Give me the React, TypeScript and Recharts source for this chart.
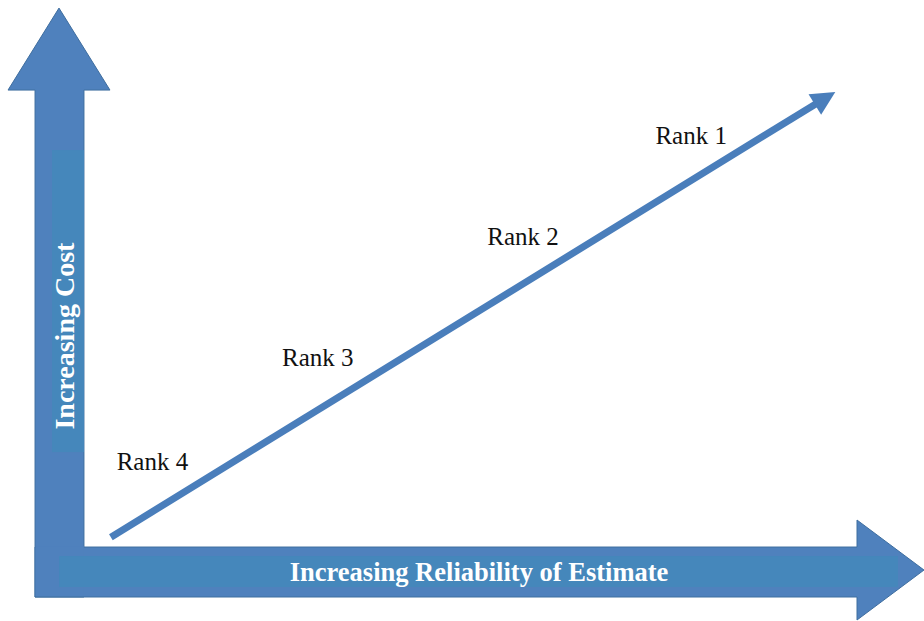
import React from "react";
import {
  ScatterChart,
  Scatter,
  XAxis,
  YAxis,
  ReferenceArea,
  ReferenceLine,
} from "recharts";

// Conceptual chart: both axes run 0..100 (unitless)
const rankLabels = ["Rank 4", "Rank 3", "Rank 2", "Rank 1"];
const rankX = [16.5, 34.4, 56.6, 74.8];
const rankY = [24.3, 41.1, 60.5, 76.8];
const diagonalX = [12.0, 90.4];
const diagonalY = [13.5, 85.2];
const xAxisTitle = "Increasing Reliability of Estimate";
const yAxisTitle = "Increasing Cost";

const rankPoints = rankLabels.map((label, i) => ({ x: rankX[i], y: rankY[i], label }));
const diagonal = diagonalX.map((x, i) => ({ x, y: diagonalY[i] }));

const W = 924;
const H = 621;
const ARROW_FILL = "#4f81bd";
const ARROW_STROKE = "#3f6e9f";
const BAND_FILL = "#4587bb";
const SERIF = "'Liberation Serif', 'DejaVu Serif', serif";

const UpArrow = (p: any) => {
  const { x, y, width, height } = p;
  const sl = x + width * 0.265;
  const sr = x + width * 0.745;
  const head = 82;
  const cx = x + width / 2;
  const pts = [
    [cx, y],
    [x + width, y + head],
    [sr, y + head],
    [sr, y + height],
    [sl, y + height],
    [sl, y + head],
    [x, y + head],
  ]
    .map((q) => q.join(","))
    .join(" ");
  const bandTop = y + 142;
  const bandBottom = y + 444;
  const tx = sr - 10;
  const ty = y + 328;
  return (
    <g>
      <polygon points={pts} fill={ARROW_FILL} stroke={ARROW_STROKE} strokeWidth={1} />
      <rect x={sl + 17} y={bandTop} width={sr - sl - 17} height={bandBottom - bandTop} fill={BAND_FILL} />
      <text
        x={tx}
        y={ty}
        transform={`rotate(-90 ${tx} ${ty})`}
        textAnchor="middle"
        fill="#ffffff"
        fontFamily={SERIF}
        fontWeight="bold"
        fontSize={28}
      >
        {yAxisTitle}
      </text>
    </g>
  );
};

const RightArrow = (p: any) => {
  const { x, y, width, height } = p;
  const st = y + height * 0.27;
  const sb = y + height * 0.77;
  const head = 67;
  const cy = y + height / 2;
  const hx = x + width - head;
  const pts = [
    [x, st],
    [hx, st],
    [hx, y],
    [x + width, cy],
    [hx, y + height],
    [hx, sb],
    [x, sb],
  ]
    .map((q) => q.join(","))
    .join(" ");
  return (
    <g>
      <polygon points={pts} fill={ARROW_FILL} stroke={ARROW_STROKE} strokeWidth={1} />
      <rect x={x + 0.6} y={st - 1} width={48.2} height={sb - st} fill={ARROW_FILL} />
      <rect x={x + 24} y={st + 9} width={width - 50} height={sb - st - 19} fill={BAND_FILL} />
      <text
        x={x + 444}
        y={sb - 16}
        textAnchor="middle"
        fill="#ffffff"
        fontFamily={SERIF}
        fontWeight="bold"
        fontSize={26.5}
      >
        {xAxisTitle}
      </text>
    </g>
  );
};

const DiagArrow = (p: any) => {
  const { x1, y1, x2, y2 } = p;
  const dx = x2 - x1;
  const dy = y2 - y1;
  const len = Math.sqrt(dx * dx + dy * dy);
  const ux = dx / len;
  const uy = dy / len;
  const hl = 24;
  const hw = 12;
  const bx = x2 - ux * hl;
  const by = y2 - uy * hl;
  const pts = [
    [x2, y2],
    [bx - uy * hw, by + ux * hw],
    [bx + uy * hw, by - ux * hw],
  ]
    .map((q) => q.join(","))
    .join(" ");
  return (
    <g>
      <line x1={x1} y1={y1} x2={bx + ux * 2} y2={by + uy * 2} stroke="#4a7ebb" strokeWidth={7} />
      <polygon points={pts} fill="#4a7ebb" />
    </g>
  );
};

const RankLabel = (p: any) => (
  <text
    x={p.cx}
    y={p.cy}
    textAnchor="middle"
    fill="#111111"
    fontFamily={SERIF}
    fontSize={25}
  >
    {p.payload.label}
  </text>
);

export default function App() {
  return (
    <div style={{ position: "absolute", left: 0, top: 0, width: W, height: H, background: "#ffffff" }}>
      <ScatterChart width={W} height={H} margin={{ top: 0, right: 0, bottom: 0, left: 0 }}>
        <XAxis type="number" dataKey="x" domain={[0, 100]} hide allowDataOverflow />
        <YAxis type="number" dataKey="y" domain={[0, 100]} hide allowDataOverflow />
        <ReferenceArea x1={0.87} x2={11.9} y1={3.86} y2={98.7} shape={UpArrow} ifOverflow="visible" />
        <ReferenceArea x1={3.79} x2={100} y1={0.16} y2={16.26} shape={RightArrow} ifOverflow="visible" />
        <ReferenceLine segment={diagonal} shape={DiagArrow} ifOverflow="visible" />
        <Scatter data={rankPoints} shape={RankLabel} isAnimationActive={false} />
      </ScatterChart>
    </div>
  );
}
